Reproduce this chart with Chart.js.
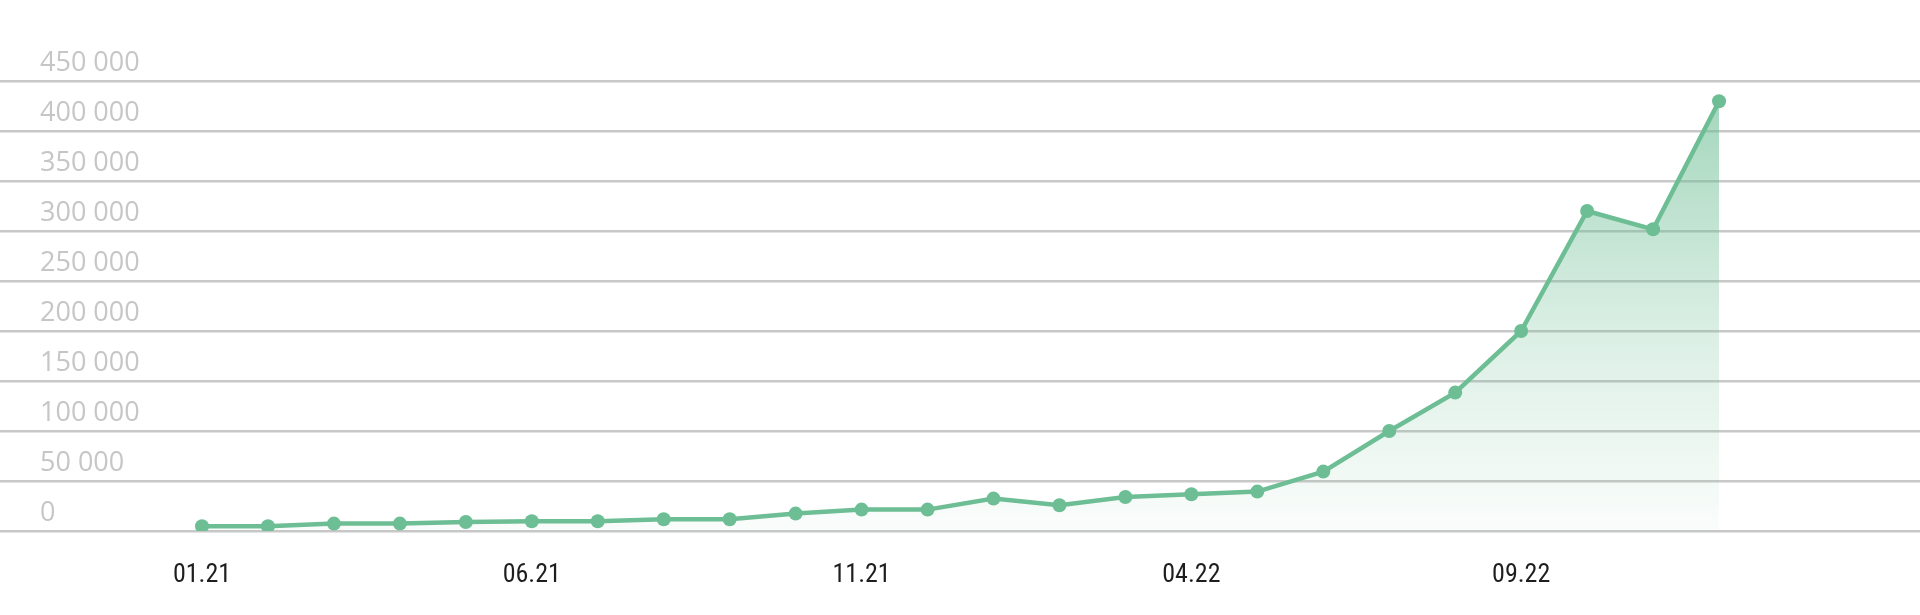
<!DOCTYPE html>
<html>
<head>
<meta charset="utf-8">
<style>
  html, body { margin: 0; padding: 0; background: #ffffff; }
  #wrap { width: 1920px; height: 615px; }
</style>
<script src="https://cdn.jsdelivr.net/npm/chart.js@4.4.0/dist/chart.umd.min.js"></script>
</head>
<body>
<div id="wrap"><canvas id="growthChart" width="1920" height="615"></canvas></div>
<script>
// months shown on the x axis (one point per month)
const months = [
    '01.21', '02.21', '03.21', '04.21', '05.21', '06.21', '07.21', '08.21',
    '09.21', '10.21', '11.21', '12.21', '01.22', '02.22', '03.22', '04.22',
    '05.22', '06.22', '07.22', '08.22', '09.22', '10.22', '11.22', '12.22'
];
const values = [
    4700, 4700, 7400, 7400, 9000, 9700, 9700, 11700,
    11700, 17400, 21400, 21400, 32400, 25700, 34000, 36700,
    39400, 59400, 100000, 138400, 200000, 320000, 301700, 429700
];
const labeledMonths = [0, 5, 10, 15, 20];
const yTicks = [0, 50000, 100000, 150000, 200000, 250000, 300000, 350000, 400000, 450000];

const lineColor = 'rgb(109, 190, 148)';

function formatThousands(v) {
    return v.toString().replace(/\B(?=(\d{3})+(?!\d))/g, ' ');
}

function areaGradient(context) {
    const area = context.chart.chartArea;
    if (!area) return 'rgba(109, 190, 148, 0.3)';
    const g = context.chart.ctx.createLinearGradient(0, area.top, 0, area.bottom);
    g.addColorStop(0, 'rgba(109, 190, 148, 0.65)');
    g.addColorStop(0.55, 'rgba(109, 190, 148, 0.25)');
    g.addColorStop(1, 'rgba(109, 190, 148, 0.03)');
    return g;
}

const ctx = document.getElementById('growthChart').getContext('2d');
const chart = new Chart(ctx, {
    type: 'line',
    data: {
        datasets: [{
            data: values.map((v, i) => ({ x: i, y: v })),
            borderColor: lineColor,
            borderWidth: 4.5,
            backgroundColor: areaGradient,
            fill: 'origin',
            tension: 0,
            pointRadius: 7,
            pointBorderWidth: 0,
            pointBackgroundColor: lineColor
        }]
    },
    options: {
        responsive: false,
        devicePixelRatio: 1,
        animation: false,
        layout: { autoPadding: false, padding: { top: 81, left: 0, right: 0, bottom: 0 } },
        plugins: {
            legend: { display: false },
            tooltip: { enabled: false }
        },
        scales: {
            x: {
                type: 'linear',
                min: -3.0626,
                max: 26.047,
                grid: { display: false, drawTicks: false },
                border: { display: false },
                afterBuildTicks: (scale) => {
                    scale.ticks = labeledMonths.map(i => ({ value: i }));
                },
                afterFit: (scale) => { scale.height = 84; },
                ticks: {
                    padding: 29,
                    maxRotation: 0,
                    autoSkip: false,
                    color: '#1e1e1e',
                    font: { family: '"Liberation Sans Narrow", "Roboto Condensed", "DejaVu Sans Condensed", sans-serif', size: 26 },
                    callback: (value) => months[value]
                }
            },
            y: {
                min: 0,
                max: 450000,
                grid: { color: '#c8c8c8', lineWidth: 2.5, drawTicks: false },
                border: { display: false },
                afterBuildTicks: (scale) => {
                    scale.ticks = yTicks.map(v => ({ value: v }));
                },
                afterFit: (scale) => { scale.width = 0; },
                ticks: {
                    mirror: true,
                    padding: 40,
                    labelOffset: -18,
                    color: '#c6c6c6',
                    font: { family: '"Open Sans", sans-serif', size: 27 },
                    callback: (value) => formatThousands(value)
                }
            }
        }
    }
});
</script>
</body>
</html>
